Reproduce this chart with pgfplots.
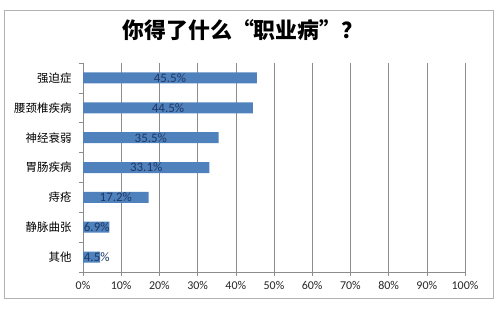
\documentclass[border=0pt]{standalone}
\usepackage{pgfplots}
\pgfplotsset{compat=1.18}
\usepackage{fontspec}
\setmainfont{Carlito}
\newfontfamily\cjk{Noto Sans CJK SC}
\definecolor{barblue}{RGB}{79,129,189}
\definecolor{lblblue}{RGB}{31,56,100}
\definecolor{gridgray}{RGB}{140,140,140}
\begin{document}
\begin{tikzpicture}
\path (0,0) rectangle (500bp,315bp);
\draw[gray!60, line width=0.8bp] (4bp,17bp) rectangle (493bp,305bp);
\node[font=\cjk\bfseries\fontsize{22}{26}\selectfont] at (243bp,285bp) {你得了什么“职业病”？};
\begin{axis}[
  at={(83bp,43bp)}, anchor=south west,
  scale only axis, width=382bp, height=209bp,
  xmin=0, xmax=100, ymin=-0.5, ymax=6.5,
  bar width=11bp,
  axis x line*=bottom, axis y line*=left,
  axis line style={gridgray, line width=0.7bp},
  xtick={0,10,...,100},
  xticklabels={0\%,10\%,20\%,30\%,40\%,50\%,60\%,70\%,80\%,90\%,100\%},
  xticklabel style={font=\fontsize{12}{14}\selectfont, text=black!85, yshift=-2bp},
  xmajorgrids, major grid style={gridgray, line width=0.6bp},
  ytick={0,...,6},
  yticklabels={其他,静脉曲张,痔疮,胃肠疾病,神经衰弱,腰颈椎疾病,强迫症},
  yticklabel style={font=\cjk\fontsize{11.5}{13}\selectfont, xshift=-4bp},
  major y tick style={draw=none},
  minor ytick={-0.5,0.5,1.5,2.5,3.5,4.5,5.5,6.5},
  minor tick style={gridgray, line width=0.6bp},
  major x tick style={gridgray, line width=0.6bp},
  tick align=outside,
  major tick length=4bp, minor tick length=4bp,
  clip=false,
]
\addplot[xbar, fill=barblue, draw=none] coordinates {
  (4.5,0) (6.9,1) (17.2,2) (33.1,3) (35.5,4) (44.5,5) (45.5,6)
};
\addplot[draw=none, mark=none, nodes near coords, point meta=explicit symbolic,
  every node near coord/.append style={font=\fontsize{13}{15}\selectfont, text=lblblue, anchor=center}]
  coordinates {
  (3.6,0) [4.5\%]
  (3.6,1) [6.9\%]
  (8.6,2) [17.2\%]
  (16.55,3) [33.1\%]
  (17.75,4) [35.5\%]
  (22.25,5) [44.5\%]
  (22.75,6) [45.5\%]
};
\end{axis}
\end{tikzpicture}
\end{document}
